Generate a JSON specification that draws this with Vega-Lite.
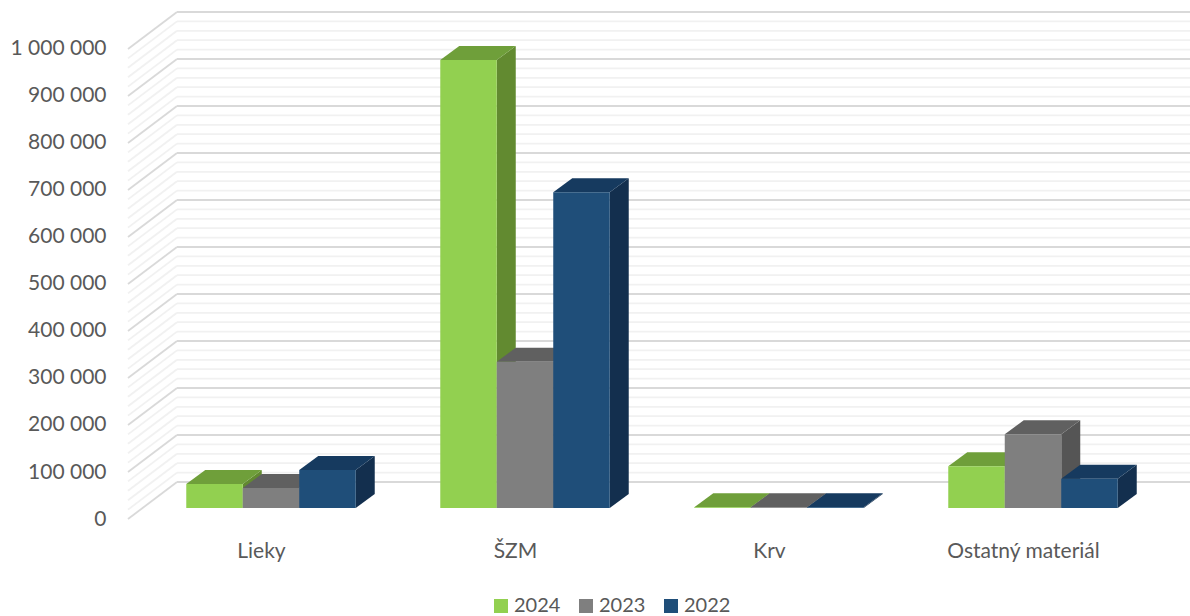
{"$schema":"https://vega.github.io/schema/vega-lite/v6.json","width":1062,"height":519,"autosize":"none","padding":{"left":128,"top":0,"right":0,"bottom":97},"background":"#ffffff","config":{"view":{"stroke":null},"font":"Lato"},
"datasets":{"naklady":[
{"kategoria":"Lieky","poradie":0,"rok":"2024","rad":0,"hodnota":51000},
{"kategoria":"Lieky","poradie":0,"rok":"2023","rad":1,"hodnota":42500},
{"kategoria":"Lieky","poradie":0,"rok":"2022","rad":2,"hodnota":81000},
{"kategoria":"ŠZM","poradie":1,"rok":"2024","rad":0,"hodnota":953000},
{"kategoria":"ŠZM","poradie":1,"rok":"2023","rad":1,"hodnota":311000},
{"kategoria":"ŠZM","poradie":1,"rok":"2022","rad":2,"hodnota":672000},
{"kategoria":"Krv","poradie":2,"rok":"2024","rad":0,"hodnota":1500},
{"kategoria":"Krv","poradie":2,"rok":"2023","rad":1,"hodnota":1500},
{"kategoria":"Krv","poradie":2,"rok":"2022","rad":2,"hodnota":1500},
{"kategoria":"Ostatný materiál","poradie":3,"rok":"2024","rad":0,"hodnota":89000},
{"kategoria":"Ostatný materiál","poradie":3,"rok":"2023","rad":1,"hodnota":157000},
{"kategoria":"Ostatný materiál","poradie":3,"rok":"2022","rad":2,"hodnota":62000}],
"mriezka":[{"v":0},{"v":20000},{"v":40000},{"v":60000},{"v":80000},{"v":100000},{"v":120000},{"v":140000},{"v":160000},{"v":180000},{"v":200000},{"v":220000},{"v":240000},{"v":260000},{"v":280000},{"v":300000},{"v":320000},{"v":340000},{"v":360000},{"v":380000},{"v":400000},{"v":420000},{"v":440000},{"v":460000},{"v":480000},{"v":500000},{"v":520000},{"v":540000},{"v":560000},{"v":580000},{"v":600000},{"v":620000},{"v":640000},{"v":660000},{"v":680000},{"v":700000},{"v":720000},{"v":740000},{"v":760000},{"v":780000},{"v":800000},{"v":820000},{"v":840000},{"v":860000},{"v":880000},{"v":900000},{"v":920000},{"v":940000},{"v":960000},{"v":980000},{"v":1000000}]},
"layer":[
{"data":{"name":"mriezka"},"transform":[{"calculate":"datum.v+78723","as":"vz"},{"calculate":"-0.3307","as":"xz"},{"calculate":"3.6575","as":"xk"},{"calculate":"datum.v%100000===0?'#D9D9D9':'#F1F1F1'","as":"farba"}],"mark":{"type":"rule","strokeWidth":1.8},
"encoding":{
"x":{"field":"xz","type":"quantitative","scale":{"domain":[-0.5236,3.6575],"nice":false,"zero":false},"title":null,"axis":{"values":[0,1,2,3],"labelExpr":"['Lieky','ŠZM','Krv','Ostatný materiál'][datum.value]","grid":false,"ticks":false,"domain":false,"labelFont":"Lato","labelFontSize":21,"labelColor":"#595959","labelPadding":21,"labelFlush":false,"labelOverlap":false}},
"x2":{"field":"xk"},
"y":{"field":"vz","type":"quantitative","scale":{"domain":[0,1104255],"nice":false,"zero":false},"title":null,"axis":{"values":[0,100000,200000,300000,400000,500000,600000,700000,800000,900000,1000000],"labelExpr":"replace(format(datum.value,','),regexp(',','g'),' ')","grid":false,"ticks":false,"domain":false,"labelFont":"Lato","labelFontSize":21,"labelColor":"#595959","labelPadding":22,"labelOffset":0}},
"stroke":{"field":"farba","type":"nominal","scale":null}}},
{"data":{"name":"mriezka"},"transform":[{"calculate":"datum.v+78723","as":"vz"},{"calculate":"-0.5236","as":"xl"},{"calculate":"-0.3307","as":"xz"},{"calculate":"datum.v%100000===0?'#D9D9D9':'#F1F1F1'","as":"farba"}],"mark":{"type":"rule","strokeWidth":1.8},
"encoding":{
"x":{"field":"xl","type":"quantitative","scale":{"domain":[-0.5236,3.6575],"nice":false,"zero":false},"title":null},
"x2":{"field":"xz"},
"y":{"field":"v","type":"quantitative","scale":{"domain":[0,1104255],"nice":false,"zero":false},"title":null},
"y2":{"field":"vz"},
"stroke":{"field":"farba","type":"nominal","scale":null}}},
{"data":{"name":"naklady"},"transform":[
{"calculate":"datum.poradie+0.0394+(datum.rad-1.5)*0.2224+0.2224","as":"x1"},
{"calculate":"[0,1]","as":"roh"},{"flatten":["roh"]},
{"calculate":"datum.x1+datum.roh*0.0748","as":"xs"},
{"calculate":"23404+datum.roh*29787","as":"ylo"},
{"calculate":"datum.hodnota+23404+datum.roh*29787","as":"yhi"},
{"calculate":"datum.kategoria+datum.rok","as":"kluc"}],
"mark":{"type":"area","line":false},
"encoding":{
"x":{"field":"xs","type":"quantitative","scale":{"domain":[-0.5236,3.6575],"nice":false,"zero":false},"title":null},
"y":{"field":"yhi","type":"quantitative","scale":{"domain":[0,1104255],"nice":false,"zero":false},"title":null},
"y2":{"field":"ylo"},
"detail":{"field":"kluc"},
"color":{"field":"rok","type":"nominal","legend":null,"scale":{"domain":["2024","2023","2022"],"range":["#628A30","#555555","#132F4E"]}}}},
{"data":{"name":"naklady"},"transform":[
{"calculate":"datum.poradie+0.0394+(datum.rad-1.5)*0.2224","as":"x0"},
{"calculate":"[0,1]","as":"roh"},{"flatten":["roh"]},
{"calculate":"datum.x0+datum.roh*0.0748","as":"xa"},
{"calculate":"datum.x0+0.2224+datum.roh*0.0748","as":"xb"},
{"calculate":"datum.hodnota+23404+datum.roh*29787","as":"yy"},
{"calculate":"datum.kategoria+datum.rok","as":"kluc"}],
"mark":{"type":"area","orient":"horizontal","line":false},
"encoding":{
"y":{"field":"yy","type":"quantitative","scale":{"domain":[0,1104255],"nice":false,"zero":false},"title":null},
"x":{"field":"xa","type":"quantitative","scale":{"domain":[-0.5236,3.6575],"nice":false,"zero":false},"title":null},
"x2":{"field":"xb"},
"detail":{"field":"kluc"},
"color":{"field":"rok","type":"nominal","legend":null,"scale":{"domain":["2024","2023","2022"],"range":["#6F9F3A","#606060","#163A5F"]}}}},
{"data":{"name":"naklady"},"transform":[
{"calculate":"datum.poradie+0.0394+(datum.rad-1.5)*0.2224","as":"x0"},
{"calculate":"datum.x0+0.2224","as":"x1"},
{"calculate":"23404","as":"yb"},
{"calculate":"datum.hodnota+23404","as":"yt"}],
"mark":{"type":"rect"},
"encoding":{
"x":{"field":"x0","type":"quantitative","scale":{"domain":[-0.5236,3.6575],"nice":false,"zero":false},"title":null},
"x2":{"field":"x1"},
"y":{"field":"yt","type":"quantitative","scale":{"domain":[0,1104255],"nice":false,"zero":false},"title":null},
"y2":{"field":"yb"},
"color":{"field":"rok","type":"nominal","scale":{"domain":["2024","2023","2022"],"range":["#92D050","#7F7F7F","#1F4E79"]},"legend":{"title":null,"orient":"none","legendX":363,"legendY":596,"direction":"horizontal","symbolType":"square","symbolSize":196,"symbolStrokeWidth":0,"labelFont":"Lato","labelFontSize":20,"labelColor":"#595959","labelOffset":3,"columnPadding":15}}}}
],
"resolve":{"scale":{"color":"independent"}}}
